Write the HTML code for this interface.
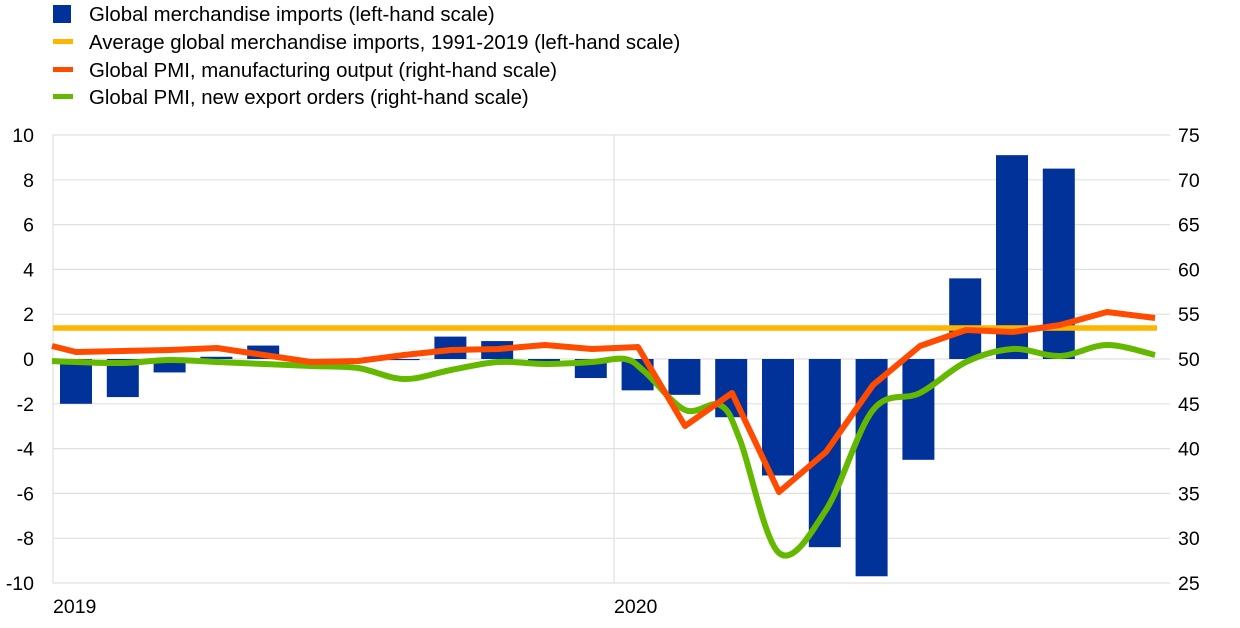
<!DOCTYPE html>
<html><head><meta charset="utf-8"><style>body{margin:0;background:#fff}svg{display:block}text{font-family:"Liberation Sans",Arial,sans-serif;fill:#000}</style></head>
<body>
<svg id="s" width="1240" height="628" viewBox="0 0 1240 628">
<g font-size="20.4">
<rect x="53" y="5" width="18" height="18" fill="#003299"/>
<text x="89" y="21">Global merchandise imports (left-hand scale)</text>
<rect x="53" y="39" width="20" height="5" fill="#ffb400"/>
<text x="89" y="49">Average global merchandise imports, 1991-2019 (left-hand scale)</text>
<rect x="53" y="67" width="20" height="5" fill="#ff4b00"/>
<text x="89" y="77">Global PMI, manufacturing output (right-hand scale)</text>
<rect x="53" y="94" width="20" height="5" fill="#65b800"/>
<text x="89" y="104">Global PMI, new export orders (right-hand scale)</text>
</g>
<g id="grid" stroke="#e0e0e0" stroke-width="1.2"></g>
<g id="bars" fill="#003299"></g>
<line x1="53" y1="328" x2="1157" y2="328" stroke="#ffb400" stroke-width="5.5"/>
<path id="g" fill="none" stroke="#65b800" stroke-width="6" stroke-linejoin="round"/>
<path id="o" fill="none" stroke="#ff4b00" stroke-width="6" stroke-linejoin="round"/>
<g id="lab" font-size="19.5"></g>
</svg>
<script>
var NS="http://www.w3.org/2000/svg";
function el(p,t,a,tx){var e=document.createElementNS(NS,t);for(var k in a)e.setAttribute(k,a[k]);if(tx!=null)e.textContent=tx;document.getElementById(p).appendChild(e);}
for(var i=0;i<=10;i++){var y=135+i*44.8;el("grid","line",{x1:53,x2:1170,y1:y,y2:y});
el("lab","text",{x:34,y:y+7,"text-anchor":"end"},String(10-2*i));
el("lab","text",{x:1178,y:y+7},String(75-5*i));}
el("grid","line",{x1:53,x2:53,y1:135,y2:583});
el("grid","line",{x1:614,x2:614,y1:135,y2:583});
el("lab","text",{x:53,y:613},"2019");el("lab","text",{x:614,y:613},"2020");
var v=[-2.0,-1.7,-0.6,0.1,0.6,-0.2,-0.1,-0.05,1.0,0.8,-0.1,-0.85,-1.4,-1.6,-2.6,-5.2,-8.4,-9.7,-4.5,3.6,9.1,8.5];
v.forEach(function(d,i){var c=76+i*46.8,y0=359,h=d*22.4;el("bars","rect",{x:c-16,width:32,y:h>0?y0-h:y0,height:Math.max(Math.abs(h),1)});});
function sm(p){var s="M"+p[0][0]+","+p[0][1];for(var i=0;i<p.length-1;i++){var a=p[i-1]||p[i],b=p[i],c=p[i+1],d=p[i+2]||c;
s+=" C"+(b[0]+(c[0]-a[0])/6)+","+(b[1]+(c[1]-a[1])/6)+" "+(c[0]-(d[0]-b[0])/6)+","+(c[1]-(d[1]-b[1])/6)+" "+c[0]+","+c[1];}return s;}
var o=[[52,346],[76,352],[123,351],[170,350],[217,348],[264,355],[311,362],[358,361],[404,355],[451,350],[498,349],[545,345],[592,349],[638,347],[685,426],[732,393],[779,492],[826,452],[873,385],[920,346],[966,330],[1013,332],[1060,325],[1107,312],[1155,318]];
var s="M"+o.map(function(p){return p.join(",")}).join(" L");
document.getElementById("o").setAttribute("d",s);
var g=[[52,361],[76,362],[123,363],[170,360],[217,362],[264,364],[311,366],[358,368],[404,379],[451,370],[498,362],[545,364],[592,362],[625,359],[645,372],[685,410],[720,405],[740,440],[779,553],[826,510],[873,410],[920,393],[966,362],[1013,349],[1060,356],[1107,345],[1155,355]];
document.getElementById("g").setAttribute("d",sm(g));
</script>
</body></html>
